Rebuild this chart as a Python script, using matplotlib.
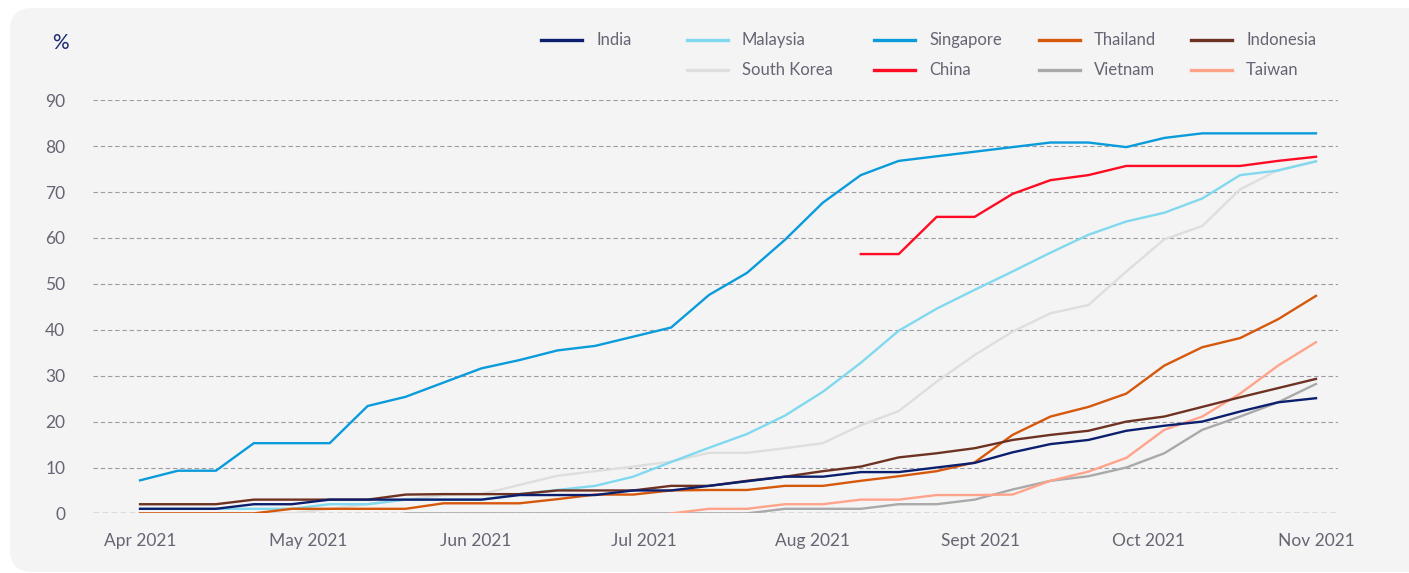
import numpy as np
from matplotlib import pyplot as plt
from matplotlib.patches import FancyBboxPatch
from matplotlib.lines import Line2D

nan = np.nan
weeks = np.arange(32)
month_labels = ["Apr 2021", "May 2021", "Jun 2021", "Jul 2021",
                "Aug 2021", "Sept 2021", "Oct 2021", "Nov 2021"]

india = [1, 1, 1, 2, 2, 3, 3, 3, 3, 3, 4, 4, 4, 5, 5, 6, 7, 8, 8, 9, 9, 10, 11,
         13.3, 15.1, 16, 18, 19.1, 20, 22.2, 24.2, 25.1]
malaysia = [1, 1, 1, 1, 1, 2, 2, 3, 3, 3, 4.2, 5.1, 6, 8, 11.2, 14.3, 17.3, 21.3,
            26.5, 32.8, 39.8, 44.6, 48.7, 52.7, 56.8, 60.7, 63.6, 65.5, 68.6,
            73.7, 74.7, 76.7]
singapore = [7.2, 9.3, 9.3, 15.3, 15.3, 15.3, 23.4, 25.4, 28.5, 31.6, 33.4, 35.5,
             36.5, 38.5, 40.5, 47.6, 52.4, 59.6, 67.7, 73.7, 76.8, 77.8, 78.8,
             79.8, 80.8, 80.8, 79.8, 81.8, 82.8, 82.8, 82.8, 82.8]
thailand = [0, 0, 0, 0, 1, 1, 1, 1, 2.2, 2.2, 2.2, 3.1, 4.1, 4.1, 5, 5.1, 5.1, 6,
            6, 7.1, 8.1, 9.2, 11.1, 17.1, 21.1, 23.2, 26.1, 32.2, 36.2, 38.2,
            42.3, 47.4]
indonesia = [2, 2, 2, 3, 3, 3, 3, 4.1, 4.2, 4.2, 4.2, 5, 5, 5, 6, 6, 7.1, 8, 9.2,
             10.2, 12.2, 13.1, 14.2, 16, 17.1, 18, 20, 21.1, 23.2, 25.3, 27.3, 29.3]
south_korea = [0, 0, 0, 0, 0, 1, 2, 3, 4, 4.2, 6.2, 8.2, 9.2, 10.2, 11.3, 13.2,
               13.2, 14.2, 15.3, 19.2, 22.3, 28.7, 34.5, 39.6, 43.6, 45.4, 52.7,
               59.7, 62.6, 70.6, 74.8, 76.7]
china = [nan] * 19 + [56.5, 56.5, 64.6, 64.6, 69.6, 72.6, 73.7, 75.7, 75.7, 75.7,
                      75.7, 76.8, 77.7]
vietnam = [nan] * 7 + [0] * 10 + [1, 1, 1, 2, 2, 3, 5.2, 7.1, 8.1, 10, 13.1, 18.2,
                                  21.1, 24.2, 28.2]
taiwan = [nan] * 14 + [0, 1, 1, 2, 2, 3, 3, 4, 4, 4.1, 7.1, 9.1, 12.1, 18.2, 21.1,
                       26.1, 32.2, 37.3]

colors = {
    "India": "#0b1f6e",
    "Malaysia": "#80d9ee",
    "Singapore": "#0a9bdb",
    "Thailand": "#d5580c",
    "Indonesia": "#6e3222",
    "South Korea": "#dedede",
    "China": "#ff0b24",
    "Vietnam": "#a9a9a9",
    "Taiwan": "#ffa48b",
}
series = {
    "India": india, "Malaysia": malaysia, "Singapore": singapore,
    "Thailand": thailand, "Indonesia": indonesia, "South Korea": south_korea,
    "China": china, "Vietnam": vietnam, "Taiwan": taiwan,
}
draw_order = ["South Korea", "Vietnam", "Taiwan", "Malaysia", "Singapore",
              "China", "Thailand", "Indonesia", "India"]

plt.rcParams['font.family'] = ['Lato', 'DejaVu Sans']
text_col = "#656574"

fig = plt.figure(figsize=(14.09, 5.73), dpi=100, facecolor="white")
panel = FancyBboxPatch((0.1, 0.01), 14.3, 5.64,
                       boxstyle="round,pad=0,rounding_size=0.22",
                       transform=fig.dpi_scale_trans, facecolor="#f4f4f4",
                       edgecolor="none", zorder=-10)
fig.patches.append(panel)

ax = fig.add_axes([93 / 1409, 1 - 513.4 / 573, 1245 / 1409, 413.1 / 573])
ax.set_facecolor("none")
ax.set_zorder(2)

for name in draw_order:
    ax.plot(weeks, series[name], color=colors[name], lw=1.7,
            solid_joinstyle="miter", zorder=3)

for v in range(10, 100, 10):
    ax.axhline(v, color="#9c9ca4", lw=0.8, ls=(0, (4, 2.5)), zorder=1)
ax.axhline(0, color="#70707a", lw=1.0, ls=(0, (4, 2.5)), zorder=1)

ax.set_xlim(-1.24, 31.58)
ax.set_ylim(0, 90)
ax.set_yticks(range(0, 100, 10))
ax.set_xticks(np.linspace(0, 31, 8))
ax.set_xticklabels(month_labels)
ax.tick_params(length=0, labelsize=12.5, labelcolor=text_col)
ax.tick_params(axis="x", pad=14)
ax.tick_params(axis="y", pad=20)
for s in ax.spines.values():
    s.set_visible(False)

fig.text(52 / 1409, 1 - 43 / 573, "%", color="#1b2b70", fontsize=15,
         va="center", ha="left")

# legend, laid out by hand in two rows
legend_rows = [
    [("India", 541), ("Malaysia", 687), ("Singapore", 874), ("Thailand", 1039),
     ("Indonesia", 1191)],
    [("South Korea", 687), ("China", 874), ("Vietnam", 1039), ("Taiwan", 1191)],
]
for row, ypix in zip(legend_rows, [40, 70]):
    yf = 1 - ypix / 573
    for name, xpix in row:
        fig.add_artist(Line2D([xpix / 1409, (xpix + 41) / 1409], [yf, yf],
                              color=colors[name], lw=2.4,
                              transform=fig.transFigure))
        fig.text((xpix + 55) / 1409, yf, name, color=text_col, fontsize=12,
                 va="center", ha="left")

fig.savefig("out.png", dpi=100, facecolor=fig.get_facecolor())
